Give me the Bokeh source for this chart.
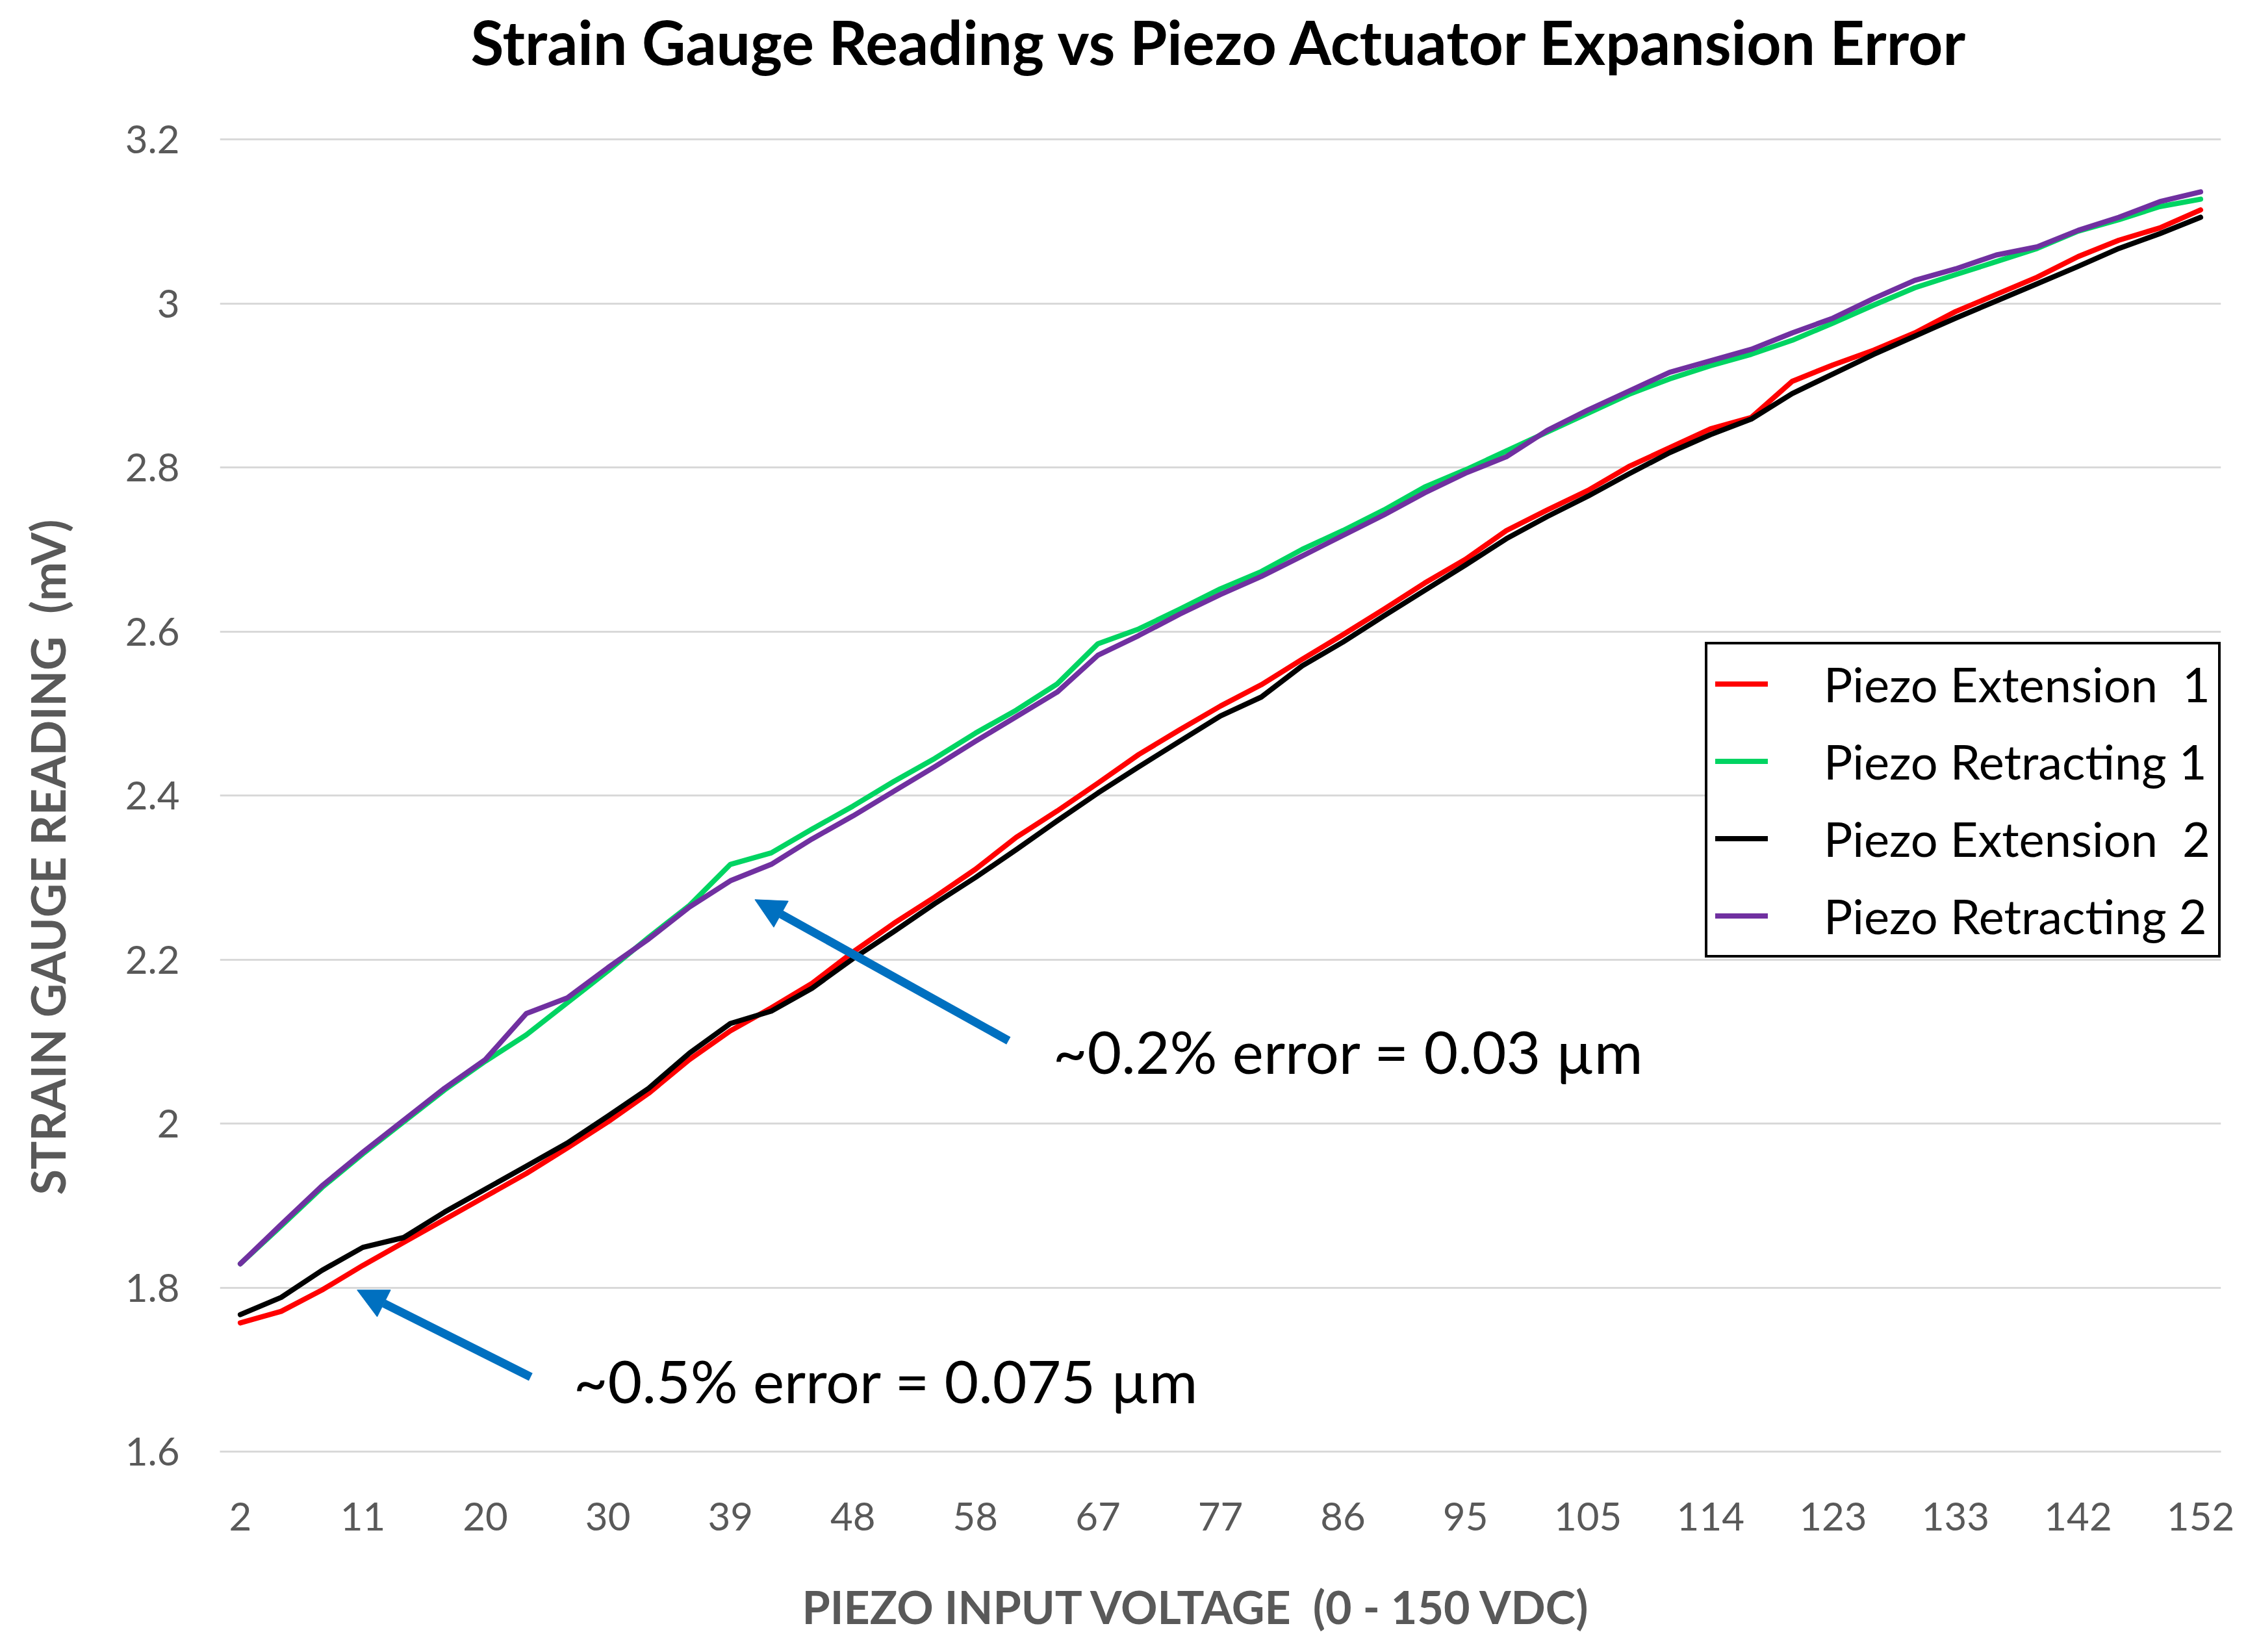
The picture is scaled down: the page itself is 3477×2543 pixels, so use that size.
import math
from bokeh.plotting import figure
from bokeh.models import Range1d, FixedTicker, Label, Arrow, NormalHead, Legend, LegendItem, Title
from bokeh.embed import file_html
from bokeh.resources import INLINE

# ---- data ----
tick_labels = ["2", "11", "20", "30", "39", "48", "58", "67", "77", "86",
               "95", "105", "114", "123", "133", "142", "152"]
n_points = 49  # readings, labelled on every 3rd category

extension_1 = [1.757, 1.771, 1.797, 1.827, 1.855, 1.883, 1.911, 1.939, 1.970, 2.002,
               2.037, 2.078, 2.113, 2.141, 2.171, 2.209, 2.244, 2.276, 2.310, 2.349,
               2.381, 2.415, 2.450, 2.480, 2.509, 2.535, 2.566, 2.596, 2.627, 2.659,
               2.688, 2.723, 2.748, 2.772, 2.801, 2.824, 2.847, 2.861, 2.905, 2.925,
               2.943, 2.964, 2.990, 3.011, 3.032, 3.057, 3.077, 3.092, 3.114]
retracting_1 = [1.829, 1.875, 1.922, 1.963, 2.002, 2.041, 2.076, 2.108, 2.147, 2.186,
                2.227, 2.266, 2.316, 2.330, 2.359, 2.387, 2.417, 2.445, 2.476, 2.504,
                2.536, 2.585, 2.603, 2.627, 2.652, 2.673, 2.700, 2.723, 2.748, 2.776,
                2.797, 2.820, 2.843, 2.866, 2.889, 2.908, 2.924, 2.938, 2.955, 2.976,
                2.998, 3.019, 3.035, 3.051, 3.067, 3.088, 3.102, 3.118, 3.127]
extension_2 = [1.767, 1.788, 1.821, 1.849, 1.861, 1.892, 1.920, 1.948, 1.976, 2.009,
               2.043, 2.086, 2.122, 2.137, 2.165, 2.201, 2.234, 2.268, 2.300, 2.334,
               2.369, 2.403, 2.435, 2.466, 2.497, 2.520, 2.558, 2.587, 2.619, 2.650,
               2.681, 2.713, 2.740, 2.765, 2.792, 2.818, 2.840, 2.859, 2.890, 2.914,
               2.938, 2.960, 2.982, 3.003, 3.024, 3.045, 3.067, 3.085, 3.105]
retracting_2 = [1.829, 1.877, 1.924, 1.965, 2.004, 2.043, 2.078, 2.134, 2.153, 2.190,
                2.225, 2.264, 2.296, 2.316, 2.347, 2.375, 2.405, 2.435, 2.466, 2.496,
                2.526, 2.571, 2.595, 2.621, 2.645, 2.667, 2.692, 2.717, 2.742, 2.769,
                2.793, 2.813, 2.845, 2.870, 2.893, 2.916, 2.930, 2.944, 2.964, 2.982,
                3.006, 3.028, 3.042, 3.059, 3.069, 3.089, 3.105, 3.124, 3.136]
y_ticks = [1.6, 1.8, 2.0, 2.2, 2.4, 2.6, 2.8, 3.0, 3.2]
y_tick_labels = ["1.6", "1.8", "2", "2.2", "2.4", "2.6", "2.8", "3", "3.2"]

series_names = ["Piezo Extension\u00a0 1", "Piezo Retracting 1",
                "Piezo Extension\u00a0 2", "Piezo Retracting 2"]
series_colors = ["#FF0000", "#00D462", "#000000", "#7030A0"]

idx = list(range(n_points))
x_tick_pos = idx[::3]

FONT = "Lato"
GREY = "#595959"

# plot area: value axis 1.6..3.2 spans 2020 px; the area above it holds the title
Y_TOP = 3.2 + 214 / 2020 * 1.6

p = figure(width=3460, height=2526, output_backend="svg", toolbar_location=None,
           x_range=Range1d(-0.5, 48.5), y_range=Range1d(1.6, Y_TOP),
           min_border_left=338, min_border_right=42,
           min_border_top=0, min_border_bottom=292)
p.outline_line_color = None
p.background_fill_color = "white"
p.border_fill_color = "white"

p.xgrid.visible = False
p.ygrid.grid_line_color = "#D9D9D9"
p.ygrid.grid_line_width = 3

p.yaxis.ticker = FixedTicker(ticks=y_ticks)
p.yaxis.major_label_overrides = {t: l for t, l in zip(y_ticks, y_tick_labels)}
p.yaxis.axis_line_color = None
p.yaxis.major_tick_line_color = None
p.yaxis.minor_tick_line_color = None
p.yaxis.major_label_standoff = 56
# spacer between tick labels and the axis title
p.yaxis.axis_label = "\u00a0"
p.yaxis.axis_label_text_font_size = "10px"
p.yaxis.axis_label_standoff = 39

p.xaxis.ticker = FixedTicker(ticks=x_tick_pos)
p.xaxis.major_label_overrides = {t: l for t, l in zip(x_tick_pos, tick_labels)}
p.xaxis.axis_line_color = "#D9D9D9"
p.xaxis.axis_line_width = 3
p.xaxis.major_tick_line_color = None
p.xaxis.minor_tick_line_color = None
p.xaxis.major_label_standoff = 72
p.xaxis.axis_label = "\u00a0"
p.xaxis.axis_label_text_font_size = "10px"
p.xaxis.axis_label_standoff = 51

for ax in (p.xaxis, p.yaxis):
    ax.major_label_text_font = FONT
    ax.major_label_text_font_size = "60px"
    ax.major_label_text_color = GREY

# axis titles
p.add_layout(Title(text="STRAIN GAUGE READING\u00a0 (mV)", align="left", offset=395,
                   text_font=FONT, text_font_style="bold", text_font_size="72px",
                   text_color=GREY, standoff=42), "left")
p.add_layout(Title(text="PIEZO INPUT VOLTAGE\u00a0 (0 - 150 VDC)", align="left", offset=896,
                   text_font=FONT, text_font_style="bold", text_font_size="70px",
                   text_color=GREY, standoff=10), "below")

# chart title (in the band above the value range)
p.add_layout(Label(x=24.0, y=3.3196, text="Strain Gauge Reading vs Piezo Actuator Expansion Error",
                   text_font=FONT, text_font_style="bold", text_font_size="93px",
                   text_color="black", text_align="center", text_baseline="middle"))

renderers = []
for vals, col in zip([extension_1, retracting_1, extension_2, retracting_2], series_colors):
    r = p.line(idx, vals, line_color=col, line_width=8, line_join="round", line_cap="round")
    renderers.append(r)

legend = Legend(items=[LegendItem(label=n, renderers=[r]) for n, r in zip(series_names, renderers)],
                location=(2286, 760))
legend.border_line_color = "black"
legend.border_line_alpha = 1.0
legend.border_line_width = 4
legend.background_fill_color = "white"
legend.background_fill_alpha = 1.0
legend.label_text_font = FONT
legend.label_text_font_size = "74px"
legend.label_text_color = "black"
legend.glyph_width = 81
legend.glyph_height = 97
legend.label_height = 97
legend.label_standoff = 86
legend.padding = 12
legend.spacing = 22
legend.margin = 0
p.add_layout(legend)

# annotations
BLUE = "#0070C0"
p.add_layout(Arrow(end=NormalHead(size=46, fill_color=BLUE, line_color=BLUE),
                   x_start=7.11, y_start=1.691, x_end=2.86, y_end=1.797,
                   line_color=BLUE, line_width=13))
p.add_layout(Arrow(end=NormalHead(size=46, fill_color=BLUE, line_color=BLUE),
                   x_start=18.81, y_start=2.101, x_end=12.6, y_end=2.273,
                   line_color=BLUE, line_width=13))
p.add_layout(Label(x=8.16, y=1.687, text="~0.5% error = 0.075 µm",
                   text_font=FONT, text_font_size="91px", text_color="black",
                   text_align="left", text_baseline="middle"))
p.add_layout(Label(x=19.9, y=2.089, text="~0.2% error = 0.03 µm",
                   text_font=FONT, text_font_size="91px", text_color="black",
                   text_align="left", text_baseline="middle"))

open("out.html", "w").write(file_html(p, INLINE))
